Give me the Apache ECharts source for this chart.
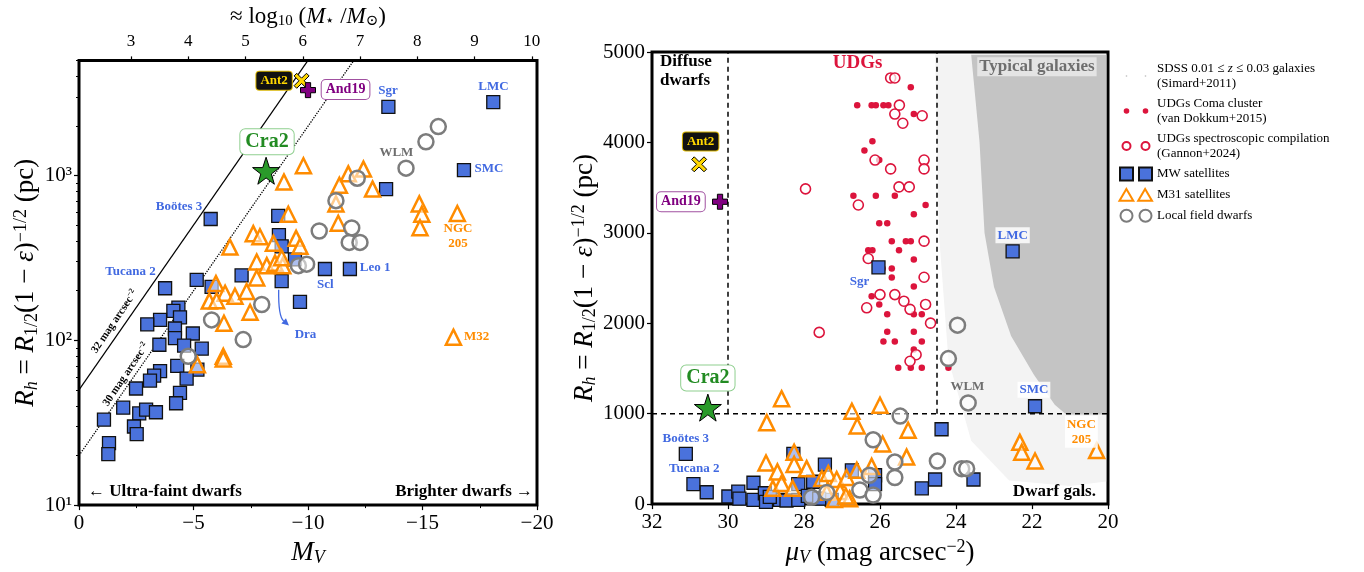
<!DOCTYPE html>
<html><head><meta charset="utf-8">
<script src="https://cdn.jsdelivr.net/npm/echarts@6/dist/echarts.min.js"></script>
<style>html,body{margin:0;padding:0;background:#fff}#c{width:1364px;height:572px}</style>
</head><body><div id="c"></div>
<script>
// ================= DATA =================
// ---- Left panel: absolute magnitude M_V vs R_h (pc) ----
const mwLeft = [[-5.75,545],[-8.70,569],[-8.73,435],[-8.85,372],[-9.43,310],[-10.74,271],[-11.83,271],[-8.85,229],[-9.65,171],[-7.10,248],[-5.14,233],[-5.79,211],[-3.76,207],[-4.34,158],[-4.12,151],[-4.41,138],[-3.54,133],[-2.98,125],[-4.19,118],[-4.97,110],[-4.19,103],[-3.51,94],[-4.59,93],[-5.36,89],[-4.29,70],[-3.54,65],[-3.28,61],[-3.10,57],[-5.17,66.5],[-4.70,58.6],[-2.49,51],[-4.41,48],[-4.24,41.5],[-1.93,39],[-2.63,36],[-2.93,38],[-3.36,36.6],[-2.40,30],[-2.52,27],[-1.09,33],[-1.31,23.8],[-1.28,20.4],[-13.51,2608],[-18.09,2793],[-16.81,1079],[-13.41,828]];
const m31Left = [[-9.80,1146],[-8.95,914],[-9.14,582],[-7.61,444],[-7.90,425],[-6.59,368],[-9.48,416],[-8.49,388],[-9.65,372],[-7.76,299],[-8.20,284],[-8.56,294],[-8.90,284],[-8.85,317],[-7.76,239],[-5.98,221],[-6.38,193],[-6.81,185],[-7.32,198],[-5.69,173],[-6.01,174],[-7.47,148],[-6.33,127],[-6.30,80],[-6.30,77],[-5.17,71],[-11.76,1024],[-12.42,1095],[-11.37,873],[-12.82,828],[-11.22,673],[-11.32,514],[-14.86,673],[-14.97,582],[-14.89,482],[-16.52,589],[-16.35,104.5]];
const fieldLeft = [[-15.69,1983],[-15.15,1603],[-14.28,1109],[-12.15,964],[-11.22,704],[-10.49,461],[-11.91,481],[-11.80,393],[-12.27,393],[-9.58,284],[-9.94,290],[-7.98,165],[-5.79,133],[-7.17,101],[-4.77,80]];
const cra2Left = [[-8.17,1070]];
const ant2Left = [[-9.72,3760]];
const and19Left = [[-10.0,3300]];
const sb32Line = [[0,50],[-10,5000]];
const sb30Line = [[0,20],[-12,5000]];
const draArrow = [[-8.72,203],[-8.70,140],[-9.17,123]]; // start, control, end

// ---- Right panel: surface brightness mu_V vs R_h (pc) ----
const comaUDG = [[25.19,4611],[26.60,4412],[26.22,4412],[26.11,4412],[25.91,4412],[25.78,4412],[25.11,4314],[26.20,4012],[26.41,3911],[26.02,3805],[26.70,3410],[26.11,3410],[25.61,3410],[24.80,3308],[25.11,3206],[26.02,3105],[25.81,3105],[25.69,2908],[25.32,2908],[25.19,2908],[26.31,2807],[26.20,2807],[25.50,2807],[25.11,2705],[25.69,2607],[25.69,2505],[25.11,2407],[25.93,2607],[26.22,2298],[26.02,2208],[25.11,2099],[24.90,2099],[25.81,2099],[25.81,1906],[25.11,1906],[25.91,1797],[25.61,1797],[24.90,1797],[25.11,1710],[25.52,1507],[25.19,1507],[24.90,1507],[24.20,1507]];
const gannonUDG = [[25.72,4713],[25.61,4713],[25.49,4412],[25.61,4314],[25.40,4212],[24.89,4295],[24.84,3805],[24.84,3707],[26.13,3805],[25.72,3707],[27.96,3486],[25.50,3508],[25.23,3508],[26.57,3308],[24.84,2908],[26.31,2716],[24.84,2509],[26.0,2317],[25.61,2317],[26.35,2171],[25.37,2244],[25.21,2154],[24.80,2208],[24.67,2001],[27.60,1899],[25.05,1652],[25.21,1580]];
const mwRight = [[31.11,556],[30.91,221],[30.56,131],[29.99,84],[29.73,138],[29.33,236],[29.33,47],[29.03,120],[29.0,25],[28.63,47],[28.46,40],[28.15,221],[28.15,47],[27.76,247],[27.45,436],[27.27,47],[26.74,374],[26.13,319],[26.13,221],[28.28,556],[24.90,174],[24.55,272],[24.38,828],[23.54,272],[21.92,1082],[26.04,2618],[22.51,2796],[29.7,60],[28.9,80],[27.9,90],[27.6,60]];
const m31Right = [[28.59,1166],[28.98,901],[26.74,1027],[26.60,864],[26.0,1093],[25.26,817],[25.93,664],[25.30,520],[28.26,574],[28.26,439],[29.0,454],[28.70,356],[27.93,392],[28.82,174],[28.59,229],[28.30,174],[27.53,283],[27.36,338],[27.14,272],[26.88,294],[26.61,374],[26.22,417],[27.40,130],[27.05,140],[26.8,60],[27.2,50],[26.9,90],[22.32,683],[22.27,574],[21.92,476],[20.30,592]];
const fieldRight = [[23.96,1979],[24.20,1609],[23.68,1119],[24.49,476],[23.85,392],[23.72,392],[25.47,973],[26.18,711],[25.61,465],[25.61,294],[26.28,319],[26.53,156],[26.18,101],[27.40,127],[27.80,76]];
const cra2Right = [[30.53,1067]];
const ant2Right = [[30.76,3758]];
const and19Right = [[30.21,3344]];
const sdssDense = [[23.6,4970],[20.05,4970],[20.05,990],[21.1,990],[21.4,1100],[21.95,1430],[22.55,1860],[23.0,2400],[23.25,3000],[23.38,4000]];
const sdssSparse = [[24.55,4970],[20.05,4970],[20.05,250],[21.0,200],[22.6,260],[23.6,700],[24.2,1600],[24.45,3000]];
const diffuseEdge = [[30,1000],[30,5000]];
const typicalEdge = [[24.5,1000],[24.5,5000]];
const sizeEdge = [[32,1000],[20,1000]];

// ---- tick values ----
const logRTicks = [10,100,1000];
const logRMinor = [20,30,40,50,60,70,80,90,200,300,400,500,600,700,800,900,2000,3000,4000,5000];
const massTicks = [3,4,5,6,7,8,9,10];

// ---- annotation texts ----
const leftLabels = [
  {t:'Ant2', at:[-8.52,3758], s:'ant2'},
  {t:'And19', at:[-11.64,3327], s:'and19'},
  {t:'Cra2', at:[-8.21,1603], s:'cra2'},
  {t:'Boötes 3', at:[-4.37,649], s:'blue'},
  {t:'Tucana 2', at:[-2.25,262], s:'blue'},
  {t:'Sgr', at:[-13.49,3282], s:'blue'},
  {t:'LMC', at:[-18.10,3467], s:'blue'},
  {t:'WLM', at:[-13.86,1383], s:'gray'},
  {t:'SMC', at:[-17.9,1099], s:'blue'},
  {t:'NGC\n205', at:[-16.55,427], s:'orange'},
  {t:'Leo 1', at:[-12.93,277], s:'blue'},
  {t:'Scl', at:[-10.76,217], s:'blue'},
  {t:'Dra', at:[-9.89,109], s:'blue'},
  {t:'M32', at:[-17.36,106], s:'orange'},
  {t:'← Ultra-faint dwarfs', at:[-0.39,12.0], s:'cornerL'},
  {t:'Brighter dwarfs →', at:[-19.83,12.0], s:'cornerR'},
  {t:'{a|32 mag arcsec}{b|−2}', at:[-1.55,130], s:'sb'},
  {t:'{a|30 mag arcsec}{b|−2}', at:[-2.05,62], s:'sb'}
];
const rightLabels = [
  {t:'Diffuse\ndwarfs', at:[31.79,4790], s:'regionL'},
  {t:'UDGs', at:[26.59,4880], s:'udg'},
  {t:'Typical galaxies', at:[21.87,4837], s:'typical'},
  {t:'Dwarf gals.', at:[21.41,142], s:'region'},
  {t:'Ant2', at:[30.72,4009], s:'ant2'},
  {t:'And19', at:[31.24,3344], s:'and19'},
  {t:'Cra2', at:[30.53,1394], s:'cra2'},
  {t:'Boötes 3', at:[31.11,727], s:'blue'},
  {t:'Tucana 2', at:[30.89,392], s:'blue'},
  {t:'Sgr', at:[26.54,2462], s:'blue'},
  {t:'LMC', at:[22.51,2974], s:'blueBox'},
  {t:'SMC', at:[21.95,1264], s:'blueBox'},
  {t:'WLM', at:[23.70,1296], s:'gray'},
  {t:'NGC\n205', at:[20.70,801], s:'orangeBox'}
];

// ================= STYLE =================
const FONT = "'Liberation Serif','DejaVu Serif',serif";
const C = {mw:'#4a72dc', m31:'#ff8c00', field:'#7c7c7c', udg:'#dc143c', cra2:'#2a9a2a', ant2:'#ffd700', and19:'#800080', sdss:'#c4c4c4'};
const STAR = 'path://M50,0 L61.8,35.1 L98.1,35.1 L68.8,56.7 L79.4,91.3 L50,70 L20.6,91.3 L31.2,56.7 L1.9,35.1 L38.2,35.1 Z';
const XSYM = 'path://M0,3.5 L3.5,0 L10,6.5 L16.5,0 L20,3.5 L13.5,10 L20,16.5 L16.5,20 L10,13.5 L3.5,20 L0,16.5 L6.5,10 Z';
const PSYM = 'path://M6.5,0 H13.5 V6.5 H20 V13.5 H13.5 V20 H6.5 V13.5 H0 V6.5 H6.5 Z';
const LS = {
  blue:{color:'#4169e1', fontSize:13, fontWeight:'bold'},
  blueBox:{color:'#4169e1', fontSize:13, fontWeight:'bold', backgroundColor:'rgba(255,255,255,0.85)', padding:[2,2,1,2]},
  gray:{color:'#6e6e6e', fontSize:13, fontWeight:'bold'},
  orange:{color:'#ff8c00', fontSize:13, fontWeight:'bold', lineHeight:15},
  orangeBox:{color:'#ff8c00', fontSize:13, fontWeight:'bold', lineHeight:15, backgroundColor:'rgba(255,255,255,0.85)', padding:[1,2]},
  ant2:{color:'#ffd700', fontSize:13, fontWeight:'bold', backgroundColor:'#111', borderColor:'#d8b400', borderWidth:1, borderRadius:3, padding:[3,4,2,4]},
  and19:{color:'#800080', fontSize:14, fontWeight:'bold', backgroundColor:'#fff', borderColor:'#a050a0', borderWidth:1, borderRadius:4, padding:[3,4,2,4]},
  cra2:{color:'#228b22', fontSize:20, fontWeight:'bold', backgroundColor:'#fff', borderColor:'#8fcf8f', borderWidth:1, borderRadius:5, padding:[3,5,2,5]},
  cornerL:{color:'#000', fontSize:17, fontWeight:'bold', align:'left'},
  cornerR:{color:'#000', fontSize:17, fontWeight:'bold', align:'right'},
  region:{color:'#000', fontSize:17, fontWeight:'bold'},
  regionL:{color:'#000', fontSize:17, fontWeight:'bold', align:'left', lineHeight:19},
  udg:{color:'#dc143c', fontSize:19, fontWeight:'bold'},
  typical:{color:'#6e6e6e', fontSize:17, fontWeight:'bold', backgroundColor:'rgba(255,255,255,0.55)', padding:[1,2]},
  sb:{color:'#000', rotate:56, rich:{a:{fontSize:11, fontWeight:'bold', fontFamily:FONT}, b:{fontSize:7.5, fontWeight:'bold', fontFamily:FONT, padding:[0,0,6,0]}}}
};

const NAMES = {
  sdss:'SDSS 0.01 ≤ z ≤ 0.03 galaxies\n(Simard+2011)',
  coma:'UDGs Coma cluster\n(van Dokkum+2015)',
  gannon:'UDGs spectroscopic compilation\n(Gannon+2024)',
  mw:'MW satellites', m31:'M31 satellites', field:'Local field dwarfs'
};

function scatter(name, data, xi, yi, sym, size, style, z) {
  return {type:'scatter', name, data, xAxisIndex:xi, yAxisIndex:yi, symbol:sym, symbolSize:size,
    itemStyle:Object.assign({opacity:1}, style), z:z||3, silent:true};
}
function line(data, xi, yi, type, width) {
  return {type:'line', data, xAxisIndex:xi, yAxisIndex:yi, symbol:'none', silent:true, z:2,
    lineStyle:{color:'#000', width, type}};
}
function labels(arr, xi, yi) {
  return {type:'scatter', xAxisIndex:xi, yAxisIndex:yi, symbolSize:1, silent:true, z:10,
    itemStyle:{color:'rgba(0,0,0,0)', opacity:1},
    data: arr.map(d => ({value:d.at, label:Object.assign({show:true, position:'inside', formatter:d.t, fontFamily:FONT, align:'center', verticalAlign:'middle'}, LS[d.s])}))};
}
function poly(name, verts, color, z) {
  return {type:'custom', name, xAxisIndex:2, yAxisIndex:2, z, silent:true, itemStyle:{color},
    data:[verts[0]],
    renderItem:(p, api) => ({type:'polygon', shape:{points:verts.map(v => api.coord(v))}, style:{fill:color}})};
}
const hollow = c => ({color:'rgba(255,255,255,0.55)', borderColor:c, borderWidth:2.5});
const mwStyle = {color:C.mw, borderColor:'#111', borderWidth:1.3};
const supMap = {1:'¹',2:'²',3:'³'};
const tickFont = {fontFamily:FONT, color:'#000'};

const axisTitle = {fontFamily:FONT, color:'#000', rich:{
  n:{fontSize:27, fontFamily:FONT},
  i:{fontSize:27, fontFamily:FONT, fontStyle:'italic'},
  sub:{fontSize:18, fontFamily:FONT, padding:[11,0,0,0]},
  subi:{fontSize:18, fontFamily:FONT, fontStyle:'italic', padding:[11,0,0,0]},
  sup:{fontSize:18, fontFamily:FONT, padding:[0,0,11,0]}
}};
const topTitle = {fontFamily:FONT, color:'#000', rich:{
  n:{fontSize:23, fontFamily:FONT},
  i:{fontSize:23, fontFamily:FONT, fontStyle:'italic'},
  sub:{fontSize:15, fontFamily:FONT, padding:[9,0,0,0]}
}};
const RH_NAME = '{i|R}{subi|h}{n| = }{i|R}{sub|1/2}{n|(1 − }{i|ε}{n|)}{sup|−1/2}{n| (pc)}';

const option = {
  animation:false,
  backgroundColor:'#fff',
  grid:[
    {left:79, top:52, width:458, height:459, show:true, borderColor:'#000', borderWidth:3, backgroundColor:'rgba(0,0,0,0)'},
    {left:652, top:52, width:456, height:459, show:true, borderColor:'#000', borderWidth:3, backgroundColor:'rgba(0,0,0,0)'}
  ],
  xAxis:[
    {gridIndex:0, type:'value', min:-20, max:0, interval:5, inverse:true, position:'bottom',
     axisLine:{show:false}, splitLine:{show:false},
     axisTick:{show:true, length:5, lineStyle:{color:'#000', width:1.2}},
     minorTick:{show:true, splitNumber:2, length:3, lineStyle:{color:'#000', width:1}},
     axisLabel:Object.assign({fontSize:21, margin:8, formatter:v => String(v).replace('-', '−')}, tickFont),
     name:'{i|M}{subi|V}', nameLocation:'middle', nameGap:23, nameTextStyle:axisTitle},
    {gridIndex:0, type:'value', min:2.09, max:10.09, position:'top',
     axisLine:{show:false}, splitLine:{show:false},
     axisTick:{show:true, length:4, customValues:massTicks, lineStyle:{color:'#000', width:1.2}},
     axisLabel:Object.assign({fontSize:17, margin:10, customValues:massTicks}, tickFont),
     name:'{n|≈ log}{sub|10}{n| (}{i|M}{sub|⋆}{n| /}{i|M}{sub|⊙}{n|)}', nameLocation:'middle', nameGap:29, nameTextStyle:topTitle},
    {gridIndex:1, type:'value', min:20, max:32, interval:2, inverse:true, position:'bottom',
     axisLine:{show:false}, splitLine:{show:false},
     axisTick:{show:true, length:5, lineStyle:{color:'#000', width:1.2}},
     axisLabel:Object.assign({fontSize:21, margin:8, formatter:v => String(v)}, tickFont),
     name:'{i|μ}{subi|V}{n| (mag arcsec}{sup|−2}{n|)}', nameLocation:'middle', nameGap:23, nameTextStyle:axisTitle}
  ],
  yAxis:[
    {gridIndex:0, type:'log', logBase:10, min:10, max:5000, position:'left',
     axisLine:{show:false}, splitLine:{show:false},
     axisTick:{show:true, length:5, customValues:logRTicks, lineStyle:{color:'#000', width:1.2}},
     axisLabel:Object.assign({fontSize:21, margin:7, customValues:logRTicks,
       formatter:v => { const e = Math.round(Math.log10(v)); return Math.abs(Math.log10(v) - e) < 1e-6 ? '10' + supMap[e] : ''; }}, tickFont),
     name:RH_NAME, nameLocation:'middle', nameGap:36, nameTextStyle:axisTitle},
    {gridIndex:0, type:'log', logBase:10, min:10, max:5000, position:'left',
     axisLine:{show:false}, splitLine:{show:false}, axisLabel:{show:false},
     axisTick:{show:true, length:3, customValues:logRMinor, lineStyle:{color:'#000', width:1}}},
    {gridIndex:1, type:'value', min:0, max:5000, interval:1000, position:'left',
     axisLine:{show:false}, splitLine:{show:false},
     axisTick:{show:true, length:5, lineStyle:{color:'#000', width:1.2}},
     axisLabel:Object.assign({fontSize:21, margin:7, formatter:v => String(v)}, tickFont),
     name:RH_NAME, nameLocation:'middle', nameGap:50, nameTextStyle:axisTitle}
  ],
  legend:{
    orient:'vertical', left:1117, top:61, padding:0, itemGap:5, itemWidth:34, itemHeight:14,
    selectedMode:false,
    textStyle:{fontFamily:FONT, fontSize:13, color:'#000', lineHeight:15,
      rich:{n:{fontFamily:FONT, fontSize:13, lineHeight:15}, i:{fontFamily:FONT, fontSize:13, lineHeight:15, fontStyle:'italic'}}},
    formatter:n => n === NAMES.sdss ? '{n|SDSS 0.01 ≤ }{i|z}{n| ≤ 0.03 galaxies}\n{n|(Simard+2011)}' : n,
    data:[
      {name:NAMES.sdss, icon:'path://M0,0M34,14M7.8,6.3h1.4v1.4h-1.4zM26.8,6.3h1.4v1.4h-1.4z'},
      {name:NAMES.coma, icon:'path://M0,0M34,14M5.7,7a2.8,2.8 0 1,0 5.6,0a2.8,2.8 0 1,0 -5.6,0zM24.7,7a2.8,2.8 0 1,0 5.6,0a2.8,2.8 0 1,0 -5.6,0z'},
      {name:NAMES.gannon, icon:'path://M0,0M34,14M4.5,7a4,4 0 1,0 8,0a4,4 0 1,0 -8,0zM23.5,7a4,4 0 1,0 8,0a4,4 0 1,0 -8,0z'},
      {name:NAMES.mw, icon:'path://M0,0M34,14M2,0.5h13v13h-13zM21,0.5h13v13h-13z'},
      {name:NAMES.m31, icon:'path://M0,0M34,14M1.5,13L8.5,1L15.5,13zM20.5,13L27.5,1L34.5,13z'},
      {name:NAMES.field, icon:'path://M0,0M34,14M2.5,7a6,6 0 1,0 12,0a6,6 0 1,0 -12,0zM21.5,7a6,6 0 1,0 12,0a6,6 0 1,0 -12,0z'}
    ]
  },
  series:[
    // ---------- left panel ----------
    line(sb32Line, 0, 0, 'solid', 1.2),
    line(sb30Line, 0, 0, 'dotted', 1.3),
    scatter(NAMES.mw, mwLeft, 0, 0, 'rect', 13, mwStyle, 3),
    scatter(NAMES.m31, m31Left, 0, 0, 'triangle', 15, hollow(C.m31), 4),
    scatter(NAMES.field, fieldLeft, 0, 0, 'circle', 15, hollow(C.field), 5),
    scatter('Cra2', cra2Left, 0, 0, STAR, 27, {color:C.cra2, borderColor:'#000', borderWidth:1}, 6),
    scatter('Ant2', ant2Left, 0, 0, XSYM, 15, {color:C.ant2, borderColor:'#000', borderWidth:1}, 6),
    scatter('And19', and19Left, 0, 0, PSYM, 15, {color:C.and19, borderColor:'#000', borderWidth:1}, 6),
    {type:'custom', xAxisIndex:0, yAxisIndex:0, silent:true, z:6, data:[draArrow[0]],
     renderItem:(p, api) => {
       const a = api.coord(draArrow[0]), c = api.coord(draArrow[1]), b = api.coord(draArrow[2]);
       const ang = Math.atan2(b[1] - c[1], b[0] - c[0]), L = 7, W = 3.5;
       const tip = b, base = [b[0] - L*Math.cos(ang), b[1] - L*Math.sin(ang)];
       const nx = -Math.sin(ang), ny = Math.cos(ang);
       return {type:'group', children:[
         {type:'bezierCurve', shape:{x1:a[0], y1:a[1], cpx1:c[0], cpy1:c[1], x2:base[0], y2:base[1]}, style:{stroke:'#4169e1', lineWidth:1.3, fill:null}},
         {type:'polygon', shape:{points:[tip, [base[0]+nx*W, base[1]+ny*W], [base[0]-nx*W, base[1]-ny*W]]}, style:{fill:'#4169e1'}}
       ]};
     }},
    labels(leftLabels, 0, 0),
    // ---------- right panel ----------
    poly('sdssSparse', sdssSparse, '#f3f3f3', 1),
    poly(NAMES.sdss, sdssDense, C.sdss, 1),
    line(diffuseEdge, 2, 2, [5,4], 1.5),
    line(typicalEdge, 2, 2, [5,4], 1.5),
    line(sizeEdge, 2, 2, [5,4], 1.5),
    scatter(NAMES.coma, comaUDG, 2, 2, 'circle', 6.5, {color:C.udg}, 3),
    scatter(NAMES.gannon, gannonUDG, 2, 2, 'circle', 10, {color:'rgba(255,255,255,0.7)', borderColor:C.udg, borderWidth:1.6}, 3),
    scatter(NAMES.mw, mwRight, 2, 2, 'rect', 13, mwStyle, 3),
    scatter(NAMES.m31, m31Right, 2, 2, 'triangle', 15, hollow(C.m31), 4),
    scatter(NAMES.field, fieldRight, 2, 2, 'circle', 15, hollow(C.field), 5),
    scatter('Cra2', cra2Right, 2, 2, STAR, 27, {color:C.cra2, borderColor:'#000', borderWidth:1}, 6),
    scatter('Ant2', ant2Right, 2, 2, XSYM, 15, {color:C.ant2, borderColor:'#000', borderWidth:1}, 6),
    scatter('And19', and19Right, 2, 2, PSYM, 15, {color:C.and19, borderColor:'#000', borderWidth:1}, 6),
    labels(rightLabels, 2, 2)
  ]
};
const chart = echarts.init(document.getElementById('c'), null, {renderer:'canvas'});
chart.setOption(option);
</script></body></html>
